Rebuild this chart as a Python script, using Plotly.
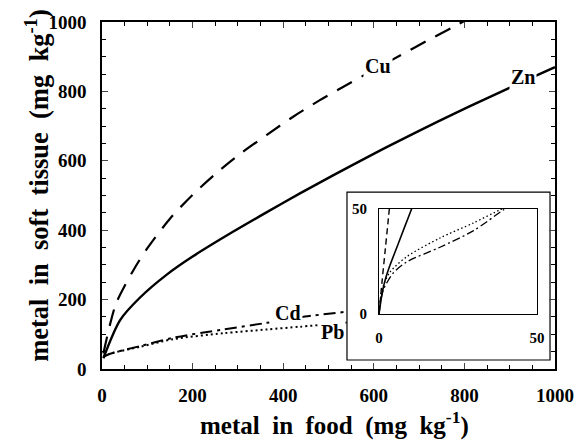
import plotly.graph_objects as go

# ---- main panel data ----
cu_x = [3, 18, 32, 69, 99, 150, 200, 253, 305, 364, 422, 480, 535, 590, 660, 715, 770, 800]
cu_y = [45, 130, 192, 284, 346, 433, 502, 565, 620, 675, 727, 774, 815, 855, 905, 944, 982, 1003]

zn_x = [3, 40, 84, 143, 200, 290, 364, 437, 510, 585, 658, 740, 810, 884, 973, 1000]
zn_y = [31, 141, 206, 272, 324, 396, 452, 506, 558, 610, 659, 712, 756, 801, 854, 870]

cd_x = [3, 18, 84, 157, 268, 364, 448, 540]
cd_y = [35, 44, 66, 90, 114, 133, 151, 165]

pb_x = [3, 18, 84, 157, 268, 364, 437, 500, 540]
pb_y = [35, 44, 64, 86, 103, 114, 122, 129, 134]

# ---- inset data (0-50 zoom) ----
in_cu_x = [0, 1, 2, 3, 3.4]
in_cu_y = [0, 16, 31, 46, 52]
in_zn_x = [0, 1, 2, 3.5, 6, 8, 10.3, 10.8]
in_zn_y = [0, 10, 16.5, 23.3, 33.1, 41, 50, 52]
in_cd_x = [0, 0.5, 1.5, 4.5, 8.8, 19.3, 29.8, 39.3, 41]
in_cd_y = [0, 6, 12, 19.5, 24.8, 31.8, 39.6, 49.5, 51]
in_pb_x = [0, 0.5, 1.5, 3.5, 8.8, 19.3, 29.8, 38.2, 40]
in_pb_y = [0, 8, 14, 20, 27.3, 36.2, 43.3, 49.5, 50.5]

x_ticks = [0, 200, 400, 600, 800, 1000]
y_ticks = [0, 200, 400, 600, 800, 1000]
inset_ticks = [0, 50]

labels = [("Cu", 609, 873), ("Zn", 929, 841), ("Cd", 411, 161), ("Pb", 508, 107)]

FONT = "Liberation Serif, Times New Roman, serif"
SP = "\u00a0 "

fig = go.Figure()

def add(x, y, dash, width, xa="x", ya="y"):
    fig.add_trace(go.Scatter(x=x, y=y, mode="lines", xaxis=xa, yaxis=ya,
                             line=dict(color="black", width=width, dash=dash,
                                       shape="spline", smoothing=0.8),
                             showlegend=False, hoverinfo="skip"))

add(cu_x, cu_y, "17px,11px", 2.2)
add(zn_x, zn_y, "solid", 2.4)
add(cd_x, cd_y, "12px,5px,3px,5px", 2.0)
add(pb_x, pb_y, "2px,3px", 2.0)

add(in_cu_x, in_cu_y, "6px,4px", 1.4, "x2", "y2")
add(in_zn_x, in_zn_y, "solid", 1.6, "x2", "y2")
add(in_cd_x, in_cd_y, "8px,3px,2px,3px", 1.3, "x2", "y2")
add(in_pb_x, in_pb_y, "1.5px,2.5px", 1.3, "x2", "y2")

tickfont = dict(family=FONT, size=19, color="black", weight="bold")

fig.update_layout(
    width=587, height=444,
    margin=dict(l=102, r=32, t=22, b=75),
    paper_bgcolor="white", plot_bgcolor="white",
    xaxis=dict(range=[0, 1000], tickvals=x_ticks, ticks="inside", ticklen=6,
               showline=True, linecolor="black", linewidth=1.5, mirror="ticks",
               showgrid=False, zeroline=False, tickfont=tickfont,
               ticklabelstandoff=8,
               minor=dict(dtick=50, ticks="inside", ticklen=4, tickcolor="black", showgrid=False)),
    yaxis=dict(range=[0, 1000], tickvals=y_ticks, ticks="inside", ticklen=6,
               showline=True, linecolor="black", linewidth=1.5, mirror="ticks",
               showgrid=False, zeroline=False, tickfont=tickfont,
               ticklabelstandoff=10,
               minor=dict(dtick=50, ticks="inside", ticklen=4, tickcolor="black", showgrid=False)),
    xaxis2=dict(domain=[0.6115, 0.9603], anchor="y2", range=[0, 50], tickvals=inset_ticks,
                ticks="", showline=True, linecolor="black", linewidth=1.2, mirror=True,
                showgrid=False, zeroline=False, ticklabelstandoff=10,
                tickfont=dict(family=FONT, size=15, color="black", weight="bold")),
    yaxis2=dict(domain=[0.1585, 0.4611], anchor="x2", range=[0, 50], tickvals=inset_ticks,
                ticks="", showline=True, linecolor="black", linewidth=1.2, mirror=True,
                showgrid=False, zeroline=False, ticklabelstandoff=8,
                tickfont=dict(family=FONT, size=15, color="black", weight="bold")),
    shapes=[dict(type="rect", xref="paper", yref="paper", x0=0.5408, x1=0.989, y0=0.026, y1=0.510,
                 line=dict(color="black", width=1.2), fillcolor="white", layer="below")],
)

ann = []
for t, x, y in labels:
    ann.append(dict(x=x, y=y, xref="x", yref="y", text=t, showarrow=False,
                    xanchor="center", yanchor="middle",
                    font=dict(family=FONT, size=20, color="black", weight="bold"),
                    bgcolor="white", borderpad=1))
ann.append(dict(x=0.514, y=-0.158, xref="paper", yref="paper", xanchor="center", yanchor="middle",
                text=f"metal{SP}in{SP}food{SP}(mg{SP}kg<sup>-1</sup>)", showarrow=False,
                font=dict(family=FONT, size=25, color="black", weight="bold")))
ann.append(dict(x=-0.144, y=0.53, xref="paper", yref="paper", textangle=-90,
                xanchor="center", yanchor="middle",
                text=f"metal{SP}in{SP}soft{SP}tissue{SP}(mg{SP}kg<sup>-1</sup>)", showarrow=False,
                font=dict(family=FONT, size=26.5, color="black", weight="bold")))
fig.update_layout(annotations=ann)

fig.write_html("out.html")
